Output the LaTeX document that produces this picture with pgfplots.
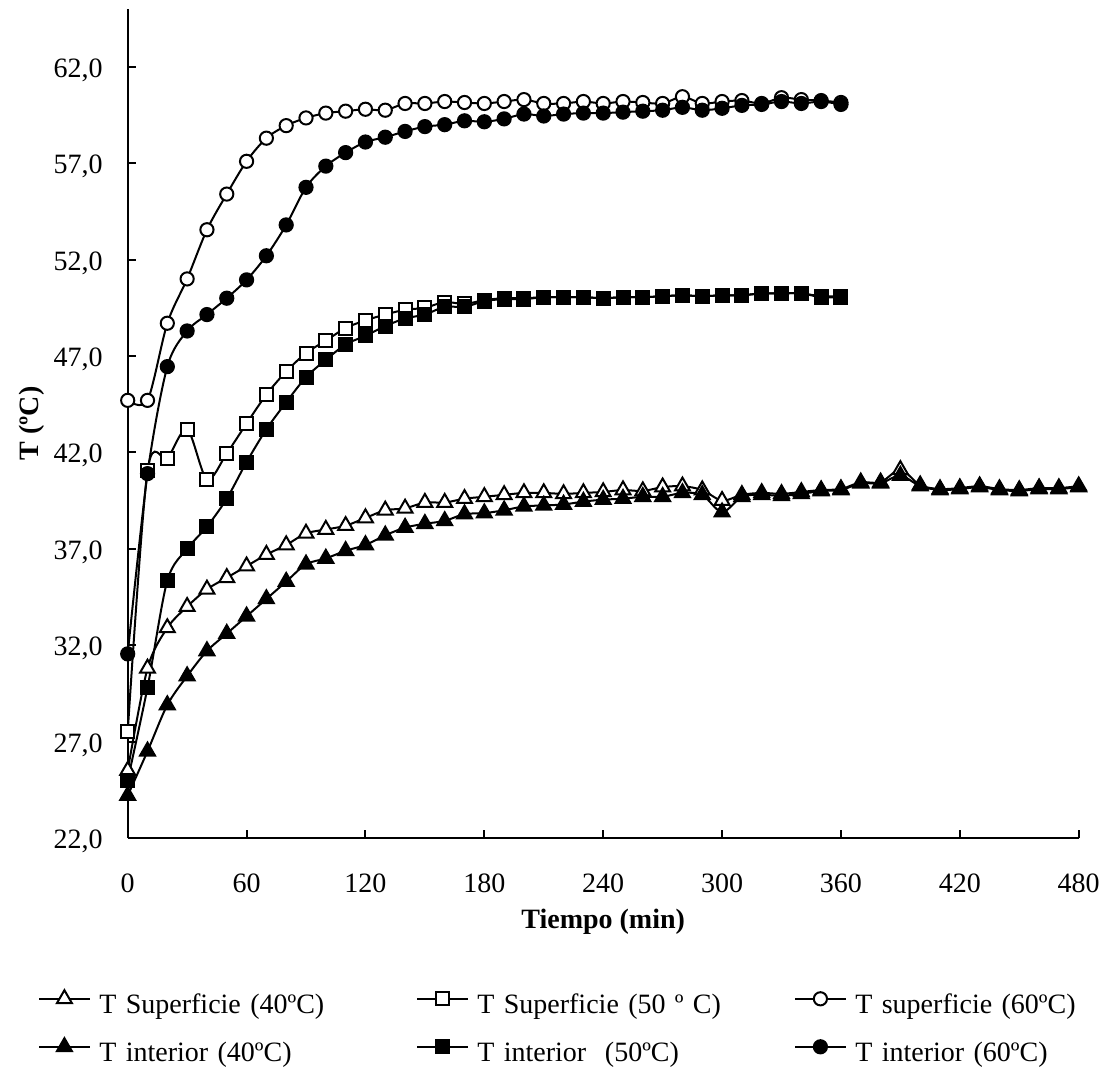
\documentclass[border=0pt]{standalone}
\usepackage{fontspec}
\setmainfont{Liberation Serif}
\usepackage{pgfplots}
\pgfplotsset{compat=1.18}

\begin{document}
\begin{tikzpicture}[font=\fontsize{14}{17}\selectfont]
\useasboundingbox (-63.85pt,-116pt) rectangle (489.65pt,419pt);
\begin{axis}[
  scale only axis,
  width=475.5pt, height=414.5pt,
  xmin=0, xmax=480, ymin=22, ymax=65,
  axis x line*=bottom, axis y line*=left,
  axis line style={line width=1pt},
  tick align=inside,
  major tick length=4pt,
  tick style={line width=1pt, black},
  xtick={0,60,...,480},
  ytick={22,27,...,62},
  /pgf/number format/assume math mode=true,
  yticklabel style={/pgf/number format/fixed, /pgf/number format/fixed zerofill, /pgf/number format/precision=1, /pgf/number format/use comma},
  yticklabel style={anchor=base east, inner sep=0pt, xshift=-12.3pt, yshift=-5.2pt},
  xticklabel style={anchor=base, inner sep=0pt, yshift=-27pt},
  xlabel={\textbf{Tiempo (min)}},
  ylabel={\textbf{T (ºC)}},
  xlabel style={at={(axis description cs:0.5,0)}, anchor=base, yshift=-45.3pt, inner sep=0pt},
  ylabel style={at={(axis description cs:-0.0943,0.5)}, anchor=base, inner sep=0pt},
  legend columns=3,
  legend cell align=left,
  legend style={
    at={(rel axis cs:-0.0943,-0.1831)}, anchor=north west,
    draw=none, inner sep=0pt, row sep=9.4pt,
    nodes={anchor=base west, inner sep=0pt, text width=158.5pt, text height=10pt, text depth=3pt},
  },
  legend image code/.code={\path (29.5pt,7.3pt); \draw[mark repeat=2, mark phase=2] plot coordinates {(0pt,7.3pt) (12.5pt,7.3pt) (25pt,7.3pt)};},
]
% T Superficie (40 C)
\addplot[black, solid, line width=1pt, smooth, tension=0.5, mark=triangle*, mark size=4.3pt, mark options={fill=white, draw=black, solid, line width=1pt}] coordinates {
(0,25.5) (10,30.8) (20,32.9) (30,34.0) (40,34.9) (50,35.5) (60,36.1) (70,36.7) (80,37.2) (90,37.8)
(100,38.0) (110,38.2) (120,38.6) (130,39.0) (140,39.1) (150,39.4) (160,39.4) (170,39.6) (180,39.7) (190,39.8)
(200,39.9) (210,39.9) (220,39.85) (230,39.9) (240,39.95) (250,40.05) (260,40.0) (270,40.2) (280,40.25) (290,40.05)
(300,39.5) (310,39.8) (320,39.9) (330,39.85) (340,39.95) (350,40.05) (360,40.1) (370,40.45) (380,40.45) (390,41.1)
(400,40.3) (410,40.1) (420,40.15) (430,40.25) (440,40.1) (450,40.05) (460,40.15) (470,40.15) (480,40.25)};
\addlegendentry{T Superficie (40ºC)}
% T Superficie (50 C)
\addplot[black, solid, line width=1pt, smooth, tension=0.5, mark=square*, mark size=3.25pt, mark options={fill=white, draw=black, solid, line width=1pt}] coordinates {
(0,27.5) (10,41.05) (20,41.7) (30,43.2) (40,40.6) (50,41.95) (60,43.5) (70,45.0) (80,46.2) (90,47.15)
(100,47.8) (110,48.45) (120,48.85) (130,49.15) (140,49.4) (150,49.5) (160,49.8) (170,49.7) (180,49.9) (190,50.0)
(200,50.0) (210,50.05) (220,50.05) (230,50.05) (240,50.0) (250,50.05) (260,50.05) (270,50.1) (280,50.15) (290,50.1)
(300,50.15) (310,50.15) (320,50.25) (330,50.25) (340,50.25) (350,50.1) (360,50.1)};
\addlegendentry{T Superficie (50 º C)}
% T superficie (60 C)
\addplot[black, solid, line width=1pt, smooth, tension=0.5, mark=*, mark size=3.3pt, mark options={fill=white, draw=black, solid, line width=1pt}] coordinates {
(0,44.7) (10,44.7) (20,48.7) (30,51.0) (40,53.55) (50,55.4) (60,57.1) (70,58.3) (80,58.95) (90,59.35)
(100,59.6) (110,59.7) (120,59.8) (130,59.75) (140,60.1) (150,60.1) (160,60.2) (170,60.15) (180,60.1) (190,60.2)
(200,60.3) (210,60.1) (220,60.1) (230,60.2) (240,60.1) (250,60.2) (260,60.15) (270,60.1) (280,60.45) (290,60.1)
(300,60.2) (310,60.25) (320,60.1) (330,60.4) (340,60.3) (350,60.25) (360,60.15)};
\addlegendentry{T superficie (60ºC)}
% T interior (40 C)
\addplot[black, solid, line width=1pt, smooth, tension=0.5, mark=triangle*, mark size=4.3pt, mark options={fill=black, draw=black, solid, line width=1pt}] coordinates {
(0,24.2) (10,26.5) (20,28.9) (30,30.4) (40,31.7) (50,32.6) (60,33.5) (70,34.4) (80,35.3) (90,36.2)
(100,36.5) (110,36.9) (120,37.2) (130,37.7) (140,38.1) (150,38.3) (160,38.45) (170,38.8) (180,38.85) (190,39.0)
(200,39.2) (210,39.25) (220,39.3) (230,39.45) (240,39.55) (250,39.6) (260,39.7) (270,39.7) (280,39.9) (290,39.8)
(300,38.9) (310,39.7) (320,39.8) (330,39.75) (340,39.85) (350,40.0) (360,40.05) (370,40.4) (380,40.4) (390,40.8)
(400,40.25) (410,40.05) (420,40.1) (430,40.2) (440,40.05) (450,40.0) (460,40.1) (470,40.1) (480,40.2)};
\addlegendentry{T interior (40ºC)}
% T interior (50 C)
\addplot[black, solid, line width=1pt, smooth, tension=0.5, mark=square*, mark size=3.25pt, mark options={fill=black, draw=black, solid, line width=1pt}] coordinates {
(0,25.0) (10,29.8) (20,35.35) (30,37.0) (40,38.15) (50,39.6) (60,41.5) (70,43.2) (80,44.6) (90,45.9)
(100,46.8) (110,47.6) (120,48.05) (130,48.55) (140,48.95) (150,49.15) (160,49.55) (170,49.55) (180,49.85) (190,49.95)
(200,49.95) (210,50.05) (220,50.05) (230,50.05) (240,50.0) (250,50.05) (260,50.05) (270,50.1) (280,50.15) (290,50.1)
(300,50.15) (310,50.15) (320,50.25) (330,50.25) (340,50.25) (350,50.05) (360,50.05)};
\addlegendentry{T interior \ (50ºC)}
% T interior (60 C)
\addplot[black, solid, line width=1pt, smooth, tension=0.5, mark=*, mark size=3.3pt, mark options={fill=black, draw=black, solid, line width=1pt}] coordinates {
(0,31.55) (10,40.9) (20,46.45) (30,48.3) (40,49.15) (50,50.0) (60,50.95) (70,52.2) (80,53.8) (90,55.75)
(100,56.85) (110,57.55) (120,58.1) (130,58.35) (140,58.65) (150,58.9) (160,59.0) (170,59.2) (180,59.15) (190,59.3)
(200,59.55) (210,59.45) (220,59.55) (230,59.6) (240,59.6) (250,59.65) (260,59.7) (270,59.75) (280,59.9) (290,59.75)
(300,59.85) (310,60.0) (320,60.05) (330,60.2) (340,60.1) (350,60.2) (360,60.05)};
\addlegendentry{T interior (60ºC)}
\end{axis}
\end{tikzpicture}
\end{document}
